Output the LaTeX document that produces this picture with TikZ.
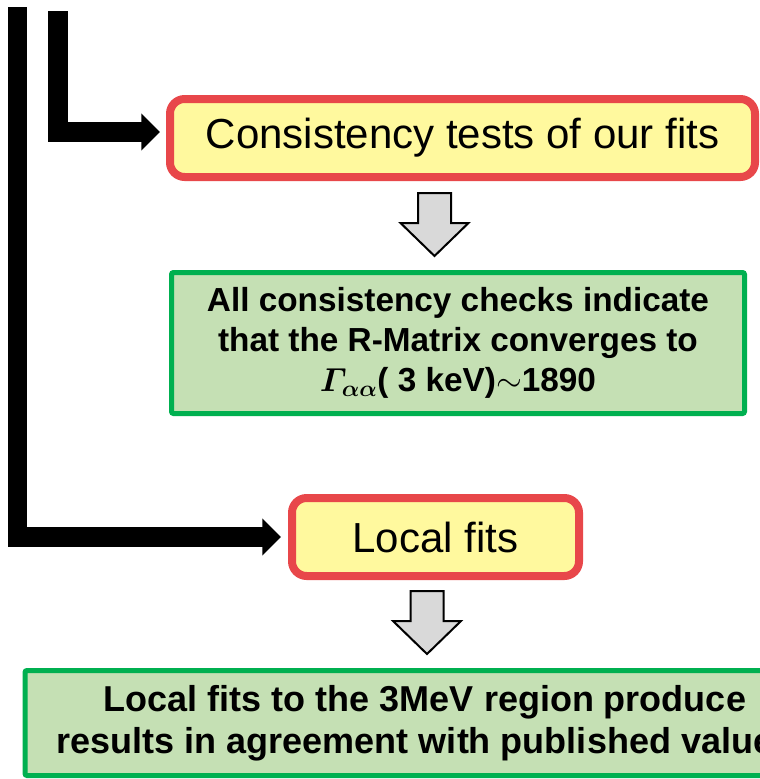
\documentclass[tikz,border=0pt]{standalone}
\usepackage{fontspec}
\setmainfont{Liberation Sans}
\usetikzlibrary{arrows.meta}
\definecolor{boxred}{HTML}{E8474A}
\definecolor{boxyellow}{HTML}{FFF99E}
\definecolor{boxgreen}{HTML}{00B050}
\definecolor{boxlightgreen}{HTML}{C5E0B4}
\definecolor{arrowgray}{HTML}{D9D9D9}
\tikzset{
  fitbox/.style={draw=boxred, fill=boxyellow, line width=6pt, rounded corners=11pt,
    inner sep=0pt, font=\fontsize{31.5}{38}\selectfont},
  resultbox/.style={draw=boxgreen, fill=boxlightgreen, line width=3.75pt, rounded corners=1.5pt,
    align=center, inner sep=0pt},
  bar/.style={line width=14.5pt, line join=miter, -{Triangle[length=14pt,width=27pt]}},
  blockarrow/.style={draw=black, fill=arrowgray, line width=1.5pt, line join=miter}
}
\newcommand\blockdown[1]{%
  \draw[blockarrow] (#1) ++(-16.5,0) -- ++(33,0) -- ++(0,30) -- ++(17.5,0)
    -- ++(-34,33) -- ++(-34,-33) -- ++(17.5,0) -- cycle;}
\begin{document}
\begin{tikzpicture}[x=0.75pt, y=-0.75pt]
    \useasboundingbox (0,0) rectangle (760,779);
    \clip (0,0) rectangle (760,779);
    % boxes
    \node[fitbox, minimum width=438.75pt, minimum height=58.5pt] (consist) at (462.5,138)
        {Consistency tests of our fits};
    \node[resultbox, minimum width=429.75pt, minimum height=105.75pt,
        font=\fontsize{25}{30}\selectfont\bfseries] (checks) at (458,343)
        {All consistency checks indicate\\
         that the R-Matrix converges to\\
         {\boldmath$\mathnormal{\Gamma}_{\alpha\alpha}$}( 3 keV)$\sim$1890};
    \node[fitbox, minimum width=215.25pt, minimum height=58.5pt] (local) at (435.5,537)
        {Local fits};
    \node[resultbox, minimum width=600pt, minimum height=78.75pt,
        font=\fontsize{27}{31.5}\selectfont\bfseries] (agree) at (425,723)
        {Local fits to the 3MeV region produce\\
         results in agreement with published values};
    % bars
    \coordinate (top1) at (17.5,7);
    \coordinate (top2) at (58,11);
    \coordinate (in1) at (160,132);
    \draw[bar] (top2) |- (in1);
    \draw[bar, shorten >=5.25pt] (top1) |- (local.west);
    % down arrows
    \coordinate (dn1) at (434.5,193);
    \coordinate (dn2) at (427,591);
    \blockdown{dn1}
    \blockdown{dn2}
\end{tikzpicture}
\end{document}
